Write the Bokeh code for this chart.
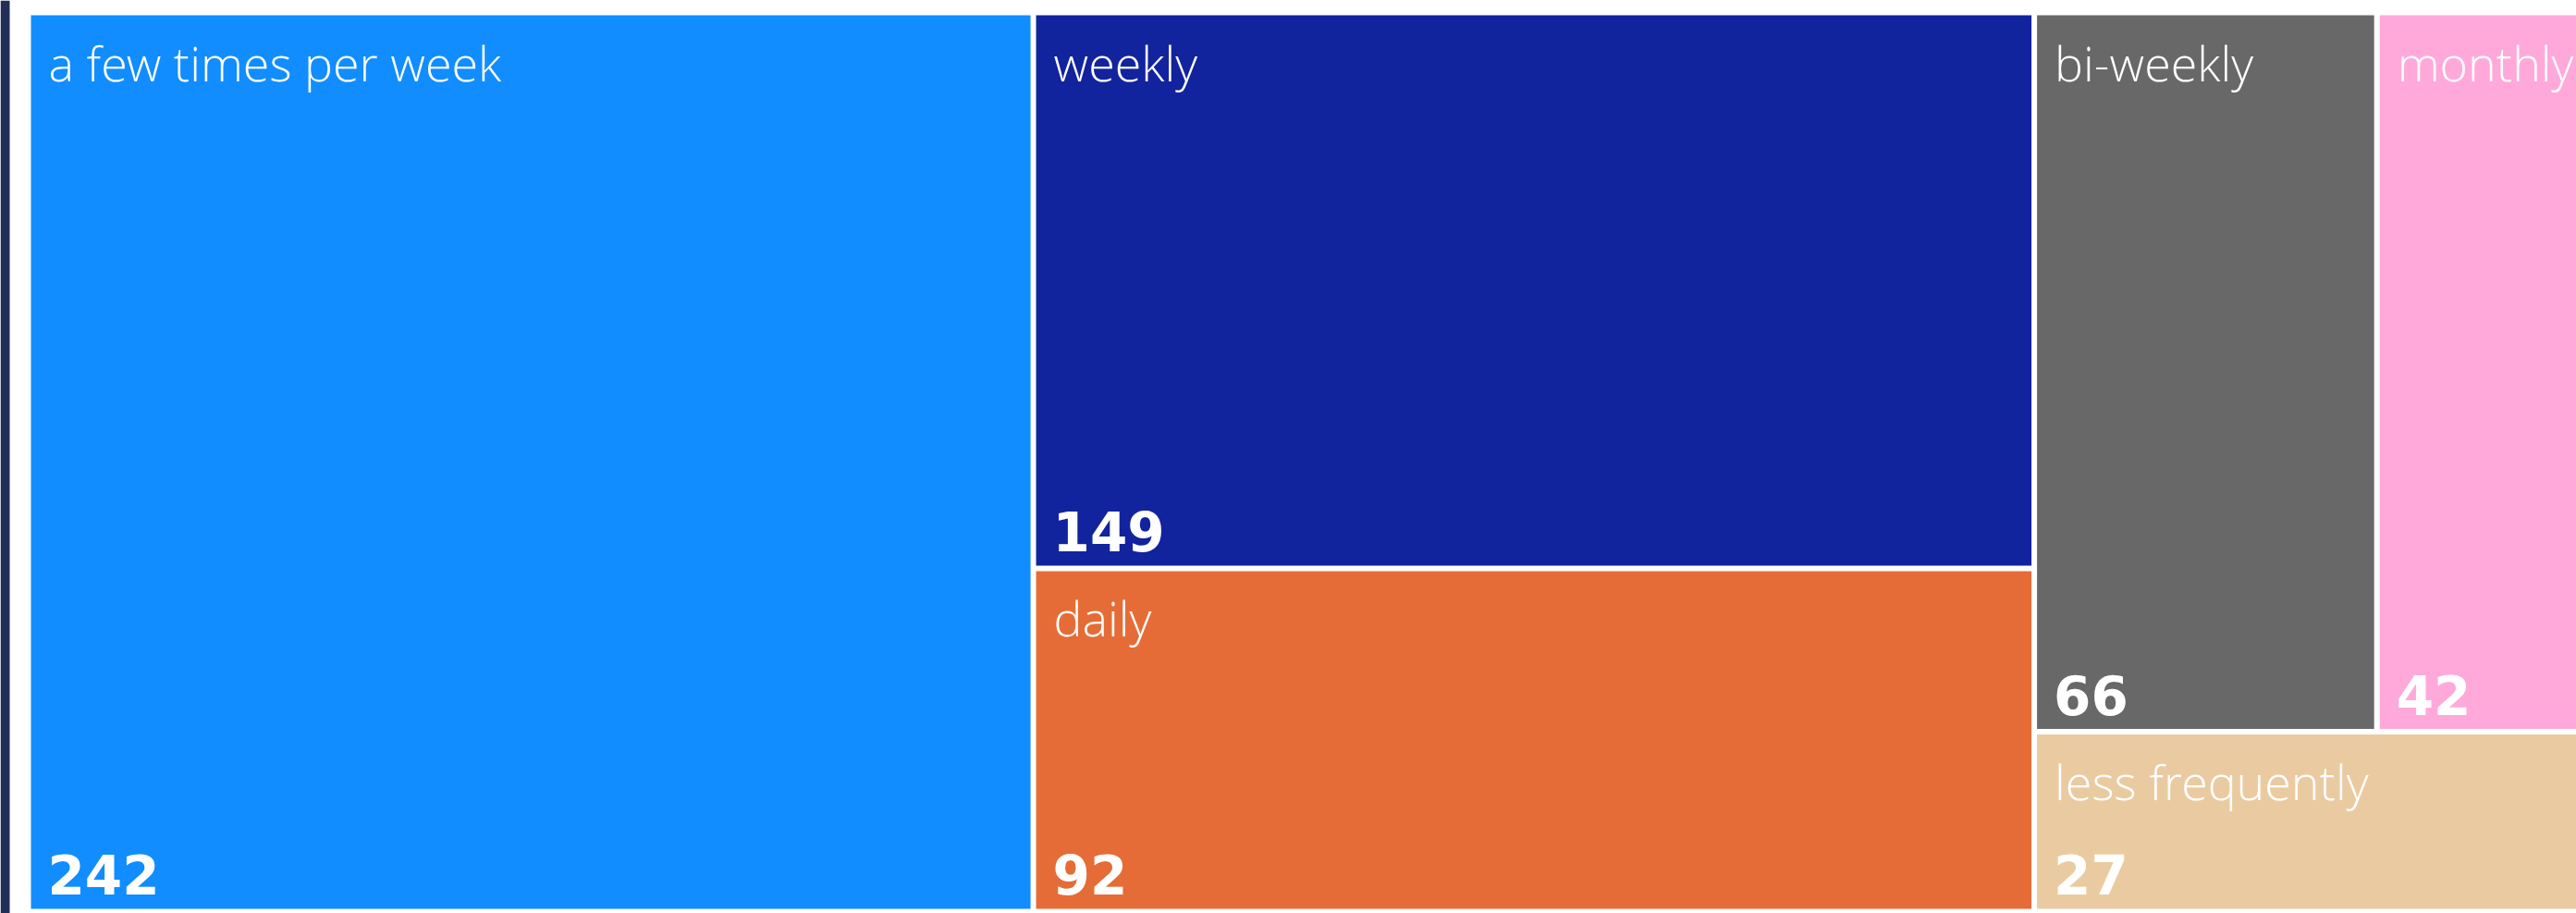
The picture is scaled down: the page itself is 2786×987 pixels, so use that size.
from bokeh.plotting import figure
from bokeh.models import ColumnDataSource, Range1d, BoxAnnotation
from bokeh.core.properties import value
from bokeh.embed import file_html
from bokeh.resources import INLINE

# ---- data ----
categories = ["a few times per week", "weekly", "daily", "bi-weekly", "monthly", "less frequently"]
counts = [242, 149, 92, 66, 42, 27]
colors = ["#118DFF", "#12239E", "#E66C37", "#686868", "#FFA9DB", "#EACBA1"]
# nesting of the treemap tiles (indices into categories); levels alternate column / row splits
hierarchy = [[0], [1, 2], [[3, 4], 5]]

# ---- layout (sizes in pixels) ----
BOX_W, BOX_H = 2776, 972
GAP = 3


def node_sum(n):
    return counts[n] if isinstance(n, int) else sum(node_sum(c) for c in n)


def layout(node, x0, y0, x1, y1, depth, out):
    if isinstance(node, int):
        out[node] = (x0, y0, x1, y1)
        return
    total = node_sum(node)
    if depth % 2 == 0:
        x = x0
        for c in node:
            w = (x1 - x0) * node_sum(c) / total
            layout(c, x, y0, x + w, y1, depth + 1, out)
            x += w
    else:
        y = y1
        for c in node:
            h = (y1 - y0) * node_sum(c) / total
            layout(c, x0, y - h, x1, y, depth + 1, out)
            y -= h


rects = {}
layout(hierarchy, 0, 0, BOX_W, BOX_H, 0, rects)
n = len(counts)
lefts = [rects[i][0] + GAP for i in range(n)]
bottoms = [rects[i][1] + GAP for i in range(n)]
rights = [rects[i][2] - GAP for i in range(n)]
tops = [rects[i][3] - GAP for i in range(n)]

src = ColumnDataSource(dict(
    left=lefts, bottom=bottoms, right=rights, top=tops,
    color=colors, name=categories, val=[str(v) for v in counts],
    lx=[l + 19 for l in lefts],
    vx=[l + 18 for l in lefts],
    ny=[t - 50.5 for t in tops],
    vy=[b + 37 for b in bottoms],
))

W, H = 2786, 987
p = figure(width=W, height=H, output_backend="svg", toolbar_location=None,
           x_range=Range1d(-30, W - 30), y_range=Range1d(985 - H, 985),
           x_axis_type=None, y_axis_type=None, min_border=0,
           outline_line_color=None, background_fill_color="white",
           border_fill_color="white")
p.grid.visible = False

p.quad(left="left", right="right", bottom="bottom", top="top", source=src,
       fill_color="color", line_color=None)

p.text(x="lx", y="ny", text="name", source=src,
       text_color="white", text_font=value("'Open Sans Light', 'Open Sans'"),
       text_font_size="52px", text_baseline="alphabetic", text_align="left")
p.text(x="vx", y="vy", text="val", source=src,
       text_color="white", text_font=value("DejaVu Sans"), text_font_style="bold",
       text_font_size="58px", text_baseline="alphabetic", text_align="left")

p.add_layout(BoxAnnotation(left=-30, right=-20, fill_color="#222E58", fill_alpha=1.0,
                           line_color=None))

open("out.html", "w").write(file_html(p, INLINE))
